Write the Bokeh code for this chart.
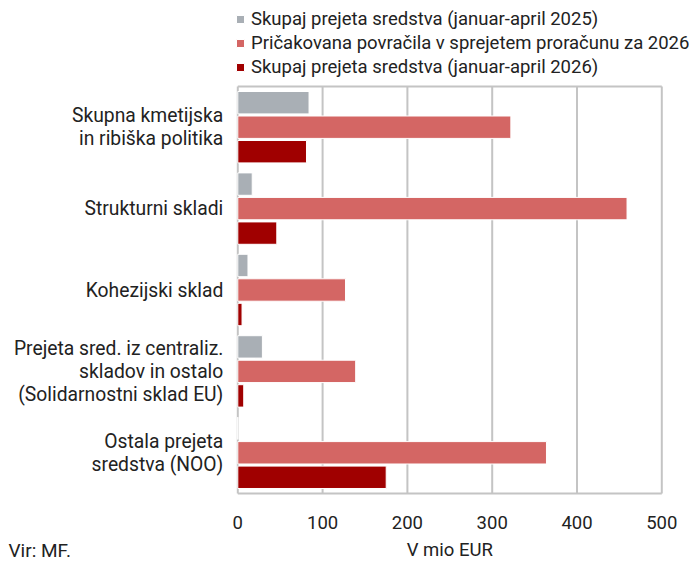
from bokeh.plotting import figure
from bokeh.models import Range1d, Legend, LegendItem
from bokeh.core.properties import value
from bokeh.embed import file_html
from bokeh.resources import INLINE

categories = [
    "Skupna kmetijska\nin ribiška politika",
    "Strukturni skladi",
    "Kohezijski sklad",
    "Prejeta sred. iz centraliz.\nskladov in ostalo\n(Solidarnostni sklad EU)",
    "Ostala prejeta\nsredstva (NOO)",
]
series_names = [
    "Skupaj prejeta sredstva (januar-april 2025)",
    "Pričakovana povračila v sprejetem proračunu za 2026",
    "Skupaj prejeta sredstva (januar-april 2026)",
]
received_2025 = [84, 17, 12, 29, 0]
expected_2026 = [322, 459, 127, 139, 364]
received_2026 = [81, 46, 5, 7, 175]
x_ticks = [0, 100, 200, 300, 400, 500]
x_title = "V mio EUR"
source_note = "Vir: MF."

colors = ["#a9afb5", "#d46664", "#a00000"]
FONT = "Roboto"
FS = "18.5px"
TXT = "#222222"
GRID = "#c4c4c4"

# layout (pixels on the canvas)
W, H = 689, 561
LEFT, RIGHT, TOP, BOTTOM = 237.3, 661.3, 86.0, 493.0
XMAX = 500
n = len(categories)
kx = (RIGHT - LEFT) / XMAX
ky = (BOTTOM - TOP) / n


def ypx(px):
    return n - (px - TOP) / ky


p = figure(width=W, height=H, output_backend="svg", toolbar_location=None,
           x_range=Range1d(-LEFT / kx, XMAX + (W - RIGHT) / kx),
           y_range=Range1d(ypx(H), ypx(0)),
           x_axis_location=None, y_axis_location=None,
           min_border=0, min_border_left=0, min_border_right=0,
           min_border_top=0, min_border_bottom=0)
p.outline_line_color = None
p.xgrid.visible = False
p.ygrid.visible = False

# plot-area grid (vertical lines at the ticks) and box (top / bottom edges)
p.segment(x0=x_ticks, x1=x_ticks, y0=[0] * len(x_ticks), y1=[n] * len(x_ticks),
          line_color=GRID, line_width=2)
p.segment(x0=[x_ticks[0]] * 2, x1=[x_ticks[-1]] * 2, y0=[0, n], y1=[0, n],
          line_color=GRID, line_width=2)

centers = [n - 0.5 - i for i in range(n)]
series = [received_2025, expected_2026, received_2026]
offsets = [0.301, 0.0, -0.301]
renderers = []
for vals, off, col in zip(series, offsets, colors):
    ys = [c + off for c in centers]
    r = p.hbar(y=ys, right=vals, left=0, height=0.275, fill_color=col,
               line_color="white", line_width=1)
    renderers.append(r)

# category labels (left of the plot area)
line_gap = 23 / ky
lx, ly, lt = [], [], []
for cat, c in zip(categories, centers):
    lines = cat.split("\n")
    k = len(lines)
    for j, ln in enumerate(lines):
        lx.append(0)
        ly.append(c + ((k - 1) / 2 - j) * line_gap)
        lt.append(ln)
p.text(x=lx, y=ly, text=lt, x_offset=-14.5, text_align="right", text_baseline="middle",
       text_font=value(FONT), text_font_size=value("19.3px"), text_color=TXT)

# x tick labels
p.text(x=x_ticks, y=[ypx(521.5)] * len(x_ticks), text=[str(t) for t in x_ticks],
       text_align="center", text_baseline="middle",
       text_font=value(FONT), text_font_size=value(FS), text_color=TXT)

# axis title and source
p.text(x=[XMAX / 2], y=[ypx(549)], text=[x_title], text_align="center", text_baseline="middle",
       text_font=value(FONT), text_font_size=value(FS), text_color=TXT)
p.text(x=[0], y=[ypx(550)], text=[source_note], x_offset=8 - LEFT, text_align="left",
       text_baseline="middle", text_font=value(FONT), text_font_size=value("19px"), text_color=TXT)

legend = Legend(items=[LegendItem(label=nm, renderers=[r]) for nm, r in zip(series_names, renderers)],
                location=(235, H - 79), orientation="vertical")
legend.glyph_width = 10
legend.glyph_height = 10
legend.label_height = 24
legend.spacing = 0
legend.padding = 0
legend.margin = 0
legend.label_standoff = 6
legend.border_line_alpha = 0
legend.background_fill_alpha = 0
legend.label_text_font = FONT
legend.label_text_font_size = FS
legend.label_text_color = TXT
p.add_layout(legend)

open("out.html", "w").write(file_html(p, INLINE))
